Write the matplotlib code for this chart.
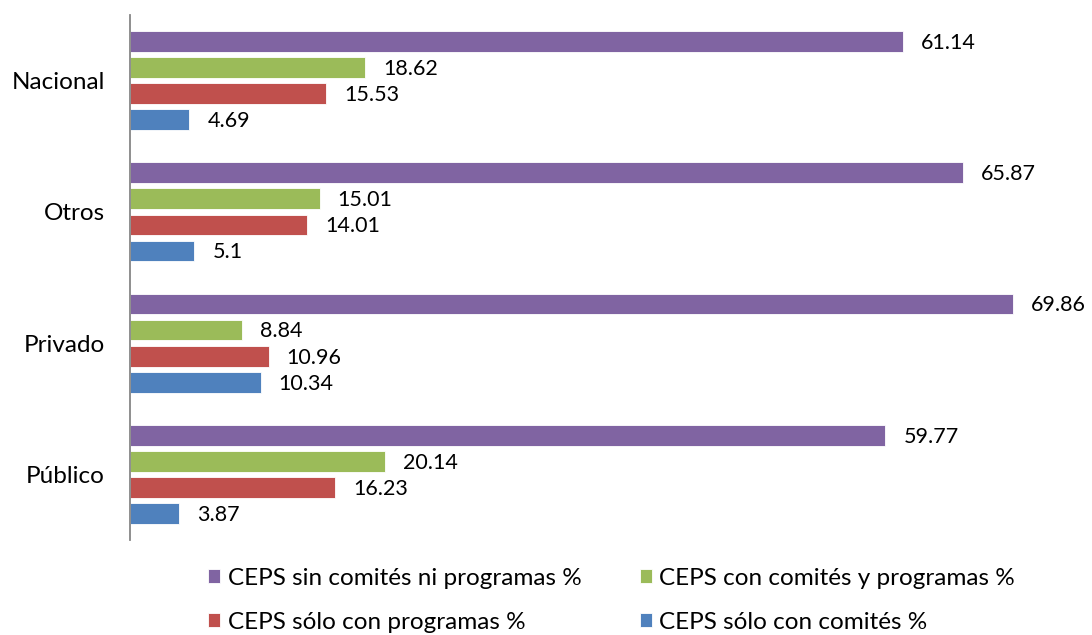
import numpy as np
import matplotlib.pyplot as plt

# data
categories = ["Nacional", "Otros", "Privado", "Público"]
series_names = [
    "CEPS sin comités ni programas %",
    "CEPS con comités y programas %",
    "CEPS sólo con programas %",
    "CEPS sólo con comités %",
]
sin_comites = [61.14, 65.87, 69.86, 59.77]
con_ambos = [18.62, 15.01, 8.84, 20.14]
solo_programas = [15.53, 14.01, 10.96, 16.23]
solo_comites = [4.69, 5.1, 10.34, 3.87]
value_labels = [
    ["61.14", "65.87", "69.86", "59.77"],
    ["18.62", "15.01", "8.84", "20.14"],
    ["15.53", "14.01", "10.96", "16.23"],
    ["4.69", "5.1", "10.34", "3.87"],
]

colors = ["#8064A2", "#9BBB59", "#C0504D", "#4F81BD"]
series = [sin_comites, con_ambos, solo_programas, solo_comites]

plt.rcParams["font.family"] = ["Lato", "DejaVu Sans"]

fig = plt.figure(figsize=(10.92, 6.35), dpi=100)
ax = fig.add_axes([130 / 1092, 95 / 635, 962 / 1092, 525 / 635])

y = np.arange(len(categories))  # 0 = top group after inversion
step = 0.1985
height = 0.158
offsets = np.array([-1.5, -0.5, 0.5, 1.5]) * step

handles = []
for k, (vals, col) in enumerate(zip(series, colors)):
    bars = ax.barh(y + offsets[k], vals, height=height, color=col,
                   edgecolor="white", linewidth=0.6, label=series_names[k])
    handles.append(bars)
    for b, txt in zip(bars, value_labels[k]):
        ax.annotate(txt, (b.get_width(), b.get_y() + b.get_height() / 2),
                    xytext=(13, -1), textcoords="offset points",
                    ha="left", va="center", fontsize=15.5, color="#000000")

ax.set_ylim(len(categories) - 0.5, -0.5)
ax.set_xlim(0, 962 / 12.64)
ax.set_yticks(y)
ax.set_yticklabels(categories, fontsize=17.5)
ax.tick_params(axis="y", length=0, pad=18)
ax.set_xticks([])
for s in ["top", "right", "bottom"]:
    ax.spines[s].set_visible(False)
ax.spines["left"].set_color("#868686")
ax.spines["left"].set_linewidth(1.3)

order = [0, 2, 1, 3]
fig.legend([handles[i] for i in order], [series_names[i] for i in order],
           ncol=2, loc="center", bbox_to_anchor=(0.56, 0.055), frameon=False,
           fontsize=17.5, handlelength=0.5, handleheight=0.5,
           handletextpad=0.3, columnspacing=2.4, labelspacing=0.95)

fig.savefig("out.png", dpi=100)
